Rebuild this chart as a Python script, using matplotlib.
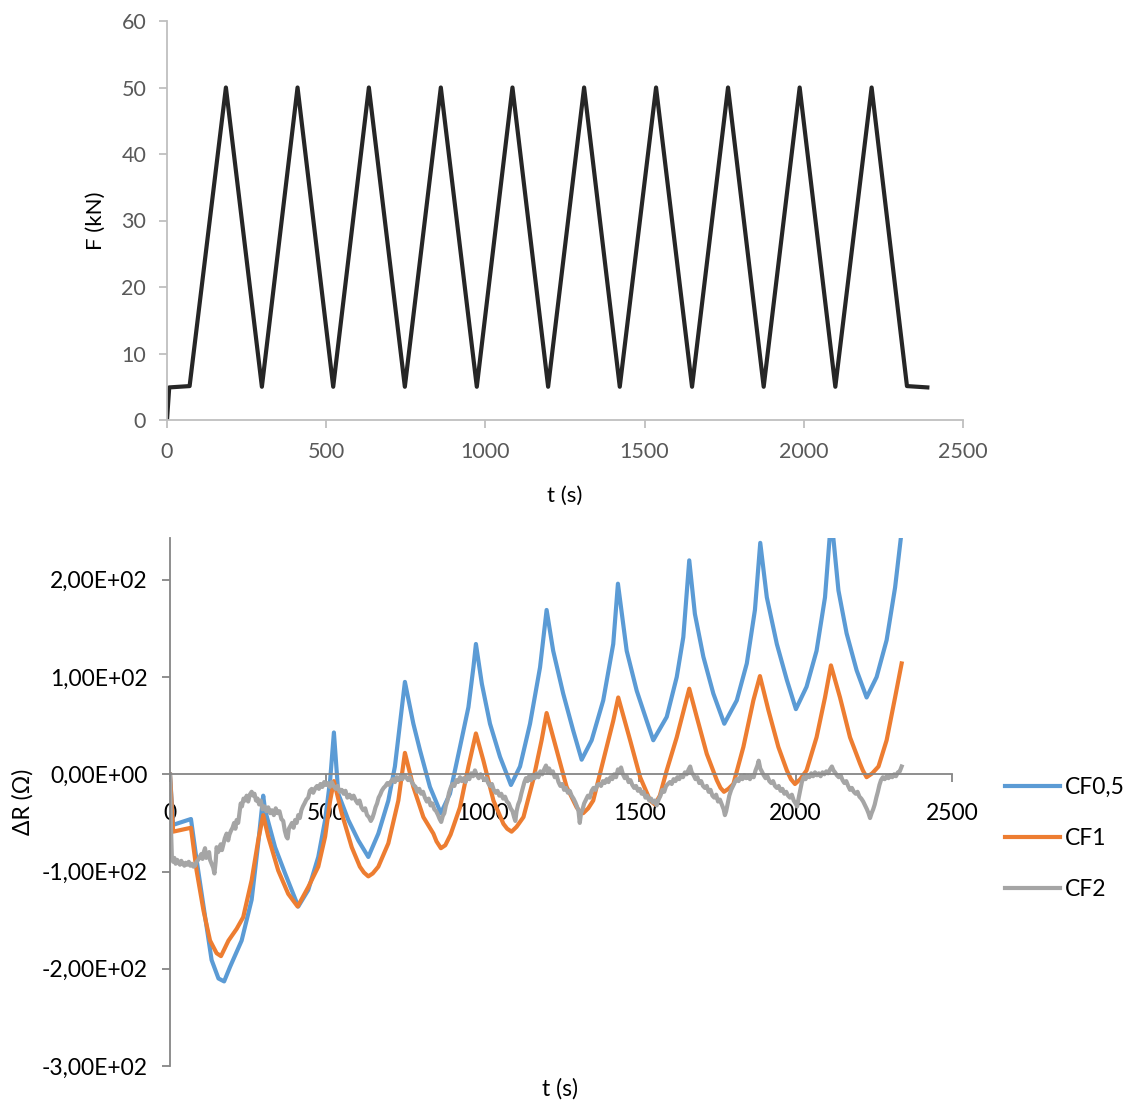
import matplotlib
matplotlib.use("Agg")
import matplotlib.pyplot as plt

plt.rcParams['font.family'] = ['Lato', 'DejaVu Sans']

# ---- Load history F(t) ----
t_force = [0, 7, 71, 185, 298, 410, 522, 634, 747, 860, 973, 1085, 1197,
           1310, 1422, 1536, 1649, 1762, 1874, 1987, 2099, 2213, 2324, 2388]
force_kN = [0, 4.9, 5.1, 50, 5, 50, 5, 50, 5, 50, 5, 50, 5,
            50, 5, 50, 5, 50, 5, 50, 5, 50, 5.1, 4.9]

# ---- Resistance change, CF0,5 ----
t_cf05 = [0, 10, 67, 85, 112, 133, 155, 173, 192, 229,
          261, 282, 298, 304, 336, 368, 410, 442, 474, 496,
          512, 524, 538, 570, 602, 634, 666, 698, 719, 751,
          778, 799, 831, 866, 895, 927, 954, 970, 978, 997,
          1023, 1055, 1090, 1119, 1151, 1183, 1204, 1225, 1257, 1289,
          1316, 1348, 1385, 1417, 1432, 1460, 1492, 1524, 1545, 1588,
          1620, 1641, 1660, 1678, 1705, 1737, 1772, 1812, 1844, 1870,
          1887, 1908, 1940, 1972, 2001, 2035, 2067, 2094, 2114, 2137,
          2163, 2195, 2227, 2259, 2291, 2318, 2339]
dr_cf05 = [0, -52, -46, -88, -146, -191, -210, -213, -198, -171,
           -129, -71, -22, -37, -75, -102, -136, -119, -85, -47,
           -6, 43, -20, -47, -68, -85, -61, -27, 8, 95,
           52, 25, -13, -40, -20, 28, 69, 110, 134, 93,
           52, 18, -11, 8, 52, 110, 169, 127, 83, 45,
           15, 35, 76, 134, 196, 127, 86, 55, 35, 59,
           100, 141, 220, 165, 121, 83, 52, 76, 114, 169,
           238, 182, 134, 97, 67, 90, 127, 182, 265, 189,
           145, 107, 79, 100, 138, 192, 250]

# ---- Resistance change, CF1 ----
t_cf1 = [0, 10, 67, 85, 107, 128, 149, 163, 187, 213,
         234, 261, 282, 298, 314, 346, 378, 408, 442, 474,
         496, 512, 524, 549, 581, 607, 620, 634, 648, 666,
         698, 730, 751, 778, 810, 842, 852, 866, 880, 897,
         927, 954, 978, 1002, 1034, 1066, 1078, 1092, 1108, 1130,
         1161, 1188, 1204, 1236, 1268, 1300, 1310, 1321, 1337, 1353,
         1385, 1417, 1433, 1471, 1503, 1535, 1550, 1566, 1588, 1620,
         1660, 1684, 1716, 1748, 1760, 1771, 1785, 1801, 1833, 1865,
         1886, 1913, 1945, 1972, 1985, 1998, 2015, 2035, 2067, 2094,
         2113, 2142, 2174, 2206, 2215, 2227, 2245, 2265, 2291, 2318,
         2339]
dr_cf1 = [0, -59, -55, -99, -140, -171, -184, -187, -171, -159,
          -147, -109, -68, -42, -64, -99, -123, -136, -116, -95,
          -64, -27, -7, -40, -75, -95, -101, -105, -102, -95,
          -71, -27, 22, -13, -44, -61, -69, -76, -73, -62,
          -34, 8, 42, 14, -27, -51, -56, -59, -54, -44,
          -6, 35, 63, 25, -13, -34, -38, -40, -35, -27,
          14, 55, 79, 35, -3, -27, -31, -22, 4, 38,
          88, 59, 21, -6, -14, -18, -15, -10, 28, 76,
          101, 66, 28, 4, -5, -10, -5, 4, 38, 79,
          112, 79, 38, 11, 4, -3, 1, 8, 35, 79,
          114]

# ---- Resistance change, CF2 ----
t_cf2 = [0, 3, 6, 10, 14, 18, 23, 27, 32, 36,
         41, 46, 50, 55, 60, 65, 70, 75, 80, 85,
         90, 95, 100, 104, 108, 112, 116, 120, 125, 128,
         133, 138, 142, 146, 149, 154, 158, 162, 166, 170,
         175, 181, 186, 190, 195, 200, 205, 209, 213, 218,
         222, 226, 230, 235, 240, 245, 250, 255, 261, 266,
         270, 275, 280, 285, 290, 296, 302, 308, 314, 320,
         326, 332, 338, 344, 350, 356, 362, 367, 372, 376,
         380, 385, 390, 395, 400, 405, 410, 415, 420, 425,
         430, 436, 442, 447, 453, 458, 465, 470, 476, 481,
         487, 493, 499, 505, 511, 517, 523, 530, 536, 542,
         549, 555, 561, 567, 574, 581, 587, 594, 600, 606,
         612, 618, 624, 630, 636, 642, 647, 652, 657, 662,
         667, 672, 677, 683, 689, 695, 701, 707, 713, 719,
         725, 731, 737, 743, 749, 755, 761, 767, 773, 779,
         785, 791, 797, 803, 809, 815, 821, 827, 833, 839,
         845, 851, 857, 862, 867, 872, 877, 882, 887, 892,
         897, 903, 909, 915, 921, 927, 933, 939, 945, 951,
         957, 963, 969, 975, 981, 987, 993, 999, 1005, 1011,
         1017, 1023, 1029, 1035, 1041, 1047, 1053, 1059, 1065, 1071,
         1077, 1083, 1089, 1095, 1100, 1104, 1108, 1113, 1118, 1123,
         1128, 1133, 1138, 1143, 1148, 1154, 1160, 1166, 1172, 1178,
         1184, 1190, 1196, 1202, 1207, 1212, 1218, 1224, 1230, 1236,
         1242, 1248, 1254, 1260, 1266, 1272, 1278, 1284, 1290, 1296,
         1301, 1306, 1310, 1314, 1319, 1324, 1330, 1336, 1342, 1348,
         1354, 1360, 1366, 1372, 1378, 1384, 1390, 1396, 1402, 1408,
         1414, 1420, 1426, 1432, 1437, 1442, 1448, 1454, 1460, 1466,
         1472, 1478, 1484, 1490, 1496, 1502, 1508, 1514, 1520, 1526,
         1532, 1538, 1544, 1550, 1556, 1562, 1568, 1574, 1580, 1586,
         1592, 1598, 1604, 1610, 1616, 1622, 1628, 1634, 1640, 1646,
         1652, 1658, 1663, 1668, 1674, 1680, 1686, 1692, 1698, 1704,
         1710, 1716, 1722, 1728, 1734, 1740, 1746, 1752, 1758, 1764,
         1770, 1774, 1778, 1783, 1788, 1794, 1800, 1806, 1812, 1818,
         1824, 1830, 1836, 1842, 1848, 1854, 1860, 1866, 1872, 1878,
         1882, 1887, 1892, 1898, 1904, 1910, 1916, 1922, 1928, 1934,
         1940, 1946, 1952, 1958, 1964, 1970, 1976, 1982, 1988, 1994,
         2000, 2005, 2010, 2015, 2020, 2026, 2032, 2038, 2044, 2050,
         2056, 2062, 2068, 2074, 2080, 2086, 2092, 2098, 2104, 2110,
         2116, 2121, 2126, 2132, 2138, 2144, 2150, 2156, 2162, 2168,
         2174, 2180, 2186, 2192, 2198, 2204, 2210, 2216, 2222, 2228,
         2233, 2238, 2243, 2248, 2253, 2258, 2263, 2268, 2273, 2279,
         2285, 2291, 2297, 2303, 2309, 2315, 2321, 2327, 2333, 2339]
dr_cf2 = [0, -54, -85, -90, -86, -92, -88, -91, -93, -89,
          -92, -94, -91, -93, -90, -94, -92, -95, -94, -90,
          -88, -85, -82, -87, -80, -76, -86, -84, -80, -88,
          -92, -96, -102, -90, -75, -80, -76, -72, -78, -73,
          -66, -61, -68, -62, -58, -55, -50, -56, -47, -50,
          -40, -30, -33, -25, -27, -22, -28, -21, -18, -22,
          -20, -27, -25, -31, -27, -36, -33, -38, -34, -40,
          -37, -42, -35, -40, -38, -46, -48, -58, -64, -66,
          -56, -53, -50, -55, -47, -50, -42, -45, -37, -33,
          -30, -26, -24, -17, -15, -19, -14, -12, -15, -10,
          -13, -8, -11, -9, -13, -8, -12, -15, -12, -18,
          -16, -20, -17, -24, -21, -25, -22, -27, -30, -27,
          -34, -37, -35, -42, -44, -48, -45, -40, -34, -30,
          -24, -21, -17, -14, -12, -9, -11, -7, -5, -8,
          -3, -6, -2, -5, -1, -3, -6, -3, -8, -11,
          -13, -18, -15, -20, -18, -24, -28, -25, -32, -30,
          -36, -38, -42, -46, -49, -43, -40, -32, -27, -19,
          -14, -10, -12, -6, -8, -3, -7, -4, -8, -2,
          -5, 1, -2, 4, -1, -4, 0, -3, -6, -4,
          -9, -12, -10, -16, -19, -17, -22, -20, -25, -23,
          -28, -30, -35, -38, -44, -48, -38, -31, -27, -20,
          -14, -8, -4, -7, -2, -6, -1, -4, 1, -3,
          3, 0, 5, 9, 2, 6, 1, 3, -3, -1,
          -8, -12, -10, -16, -14, -19, -17, -22, -25, -29,
          -33, -38, -50, -40, -36, -30, -26, -22, -24, -17,
          -14, -16, -11, -10, -12, -7, -9, -5, -8, -3,
          -5, 0, -3, 5, 2, 7, 0, -4, -2, -8,
          -6, -11, -14, -12, -17, -15, -20, -18, -24, -22,
          -27, -25, -29, -27, -32, -26, -22, -16, -18, -12,
          -10, -8, -10, -5, -7, -3, -5, -1, -3, 2,
          0, 5, 8, 2, -1, -5, -3, -9, -7, -12,
          -14, -12, -18, -16, -22, -24, -21, -28, -26, -31,
          -36, -42, -38, -30, -22, -16, -12, -8, -5, -7,
          -2, -5, -1, -4, -2, -5, -1, -3, 4, 9,
          14, 6, 3, -1, -4, -2, -7, -9, -7, -12,
          -14, -12, -17, -15, -20, -18, -22, -24, -21, -27,
          -30, -33, -24, -16, -8, -3, -5, -1, -3, 1,
          -2, 2, -1, 1, -2, 2, 0, 3, 1, 5,
          8, 4, 2, -1, -3, -1, -6, -9, -7, -12,
          -16, -14, -18, -20, -18, -23, -25, -28, -32, -36,
          -40, -45, -40, -36, -31, -24, -18, -11, -6, -3,
          -5, -2, -4, -1, -3, 0, -2, 2, 3, 8]

series_labels = ["CF0,5", "CF1", "CF2"]
series_colors = ["#5B9BD5", "#ED7D31", "#A5A5A5"]

force_ticks = [0, 10, 20, 30, 40, 50, 60]
time_ticks = [0, 500, 1000, 1500, 2000, 2500]
dr_ticks = [-300, -200, -100, 0, 100, 200]
dr_tick_labels = ["-3,00E+02", "-2,00E+02", "-1,00E+02",
                  "0,00E+00", "1,00E+02", "2,00E+02"]

W, H = 1133, 1102
fig = plt.figure(figsize=(W / 100, H / 100), dpi=100)

# ---------------- upper panel: force ----------------
ax1 = fig.add_axes([167 / W, 1 - 420 / H, 796 / W, 399 / H])
ax1.plot(t_force, force_kN, color="#262626", lw=3.0)
ax1.set_xlim(0, 2500)
ax1.set_ylim(0, 60)
ax1.set_xticks(time_ticks)
ax1.set_yticks(force_ticks)
for s in ["top", "right"]:
    ax1.spines[s].set_visible(False)
for s in ["left", "bottom"]:
    ax1.spines[s].set_color("#BFBFBF")
    ax1.spines[s].set_linewidth(1.3)
ax1.tick_params(direction="out", length=6, width=1.3, color="#BFBFBF",
                labelcolor="#595959", labelsize=15.5)
ax1.tick_params(axis="x", pad=10)
ax1.tick_params(axis="y", pad=9)
ax1.set_xlabel("t (s)", fontsize=16, labelpad=17)
ax1.set_ylabel("F (kN)", fontsize=16, labelpad=11)

# ---------------- lower panel: resistance change ----------------
ax2 = fig.add_axes([170 / W, 1 - 1066 / H, 782 / W, 528 / H])
lines = []
for tx, ry, lab, col in zip([t_cf05, t_cf1, t_cf2],
                            [dr_cf05, dr_cf1, dr_cf2],
                            series_labels, series_colors):
    ln, = ax2.plot(tx, ry, color=col, lw=3.0, label=lab)
    lines.append(ln)
ax2.set_xlim(0, 2500)
ax2.set_ylim(-300, 243)
ax2.set_xticks(time_ticks)
ax2.set_yticks(dr_ticks)
ax2.set_yticklabels(dr_tick_labels)
ax2.spines["top"].set_visible(False)
ax2.spines["right"].set_visible(False)
ax2.spines["bottom"].set_position(("data", 0))
for s in ["left", "bottom"]:
    ax2.spines[s].set_color("#868686")
    ax2.spines[s].set_linewidth(1.3)
ax2.tick_params(direction="out", length=6, width=1.3, color="#868686",
                labelcolor="black", labelsize=16.5)
ax2.tick_params(axis="x", pad=15)
ax2.tick_params(axis="y", pad=10)
ax2.set_ylabel("ΔR (Ω)", fontsize=16.5, labelpad=6)
fig.text(560 / W, 1 - 1089 / H, "t (s)", fontsize=16.5, ha="center", va="center")

fig.legend(handles=lines, labels=series_labels, loc="upper left",
           bbox_to_anchor=(1005 / W, 1 - 777 / H), frameon=False,
           fontsize=16.5, handlelength=2.4, handletextpad=0.2,
           labelspacing=1.3, borderpad=0, borderaxespad=0)

fig.savefig("out.png", dpi=100)
